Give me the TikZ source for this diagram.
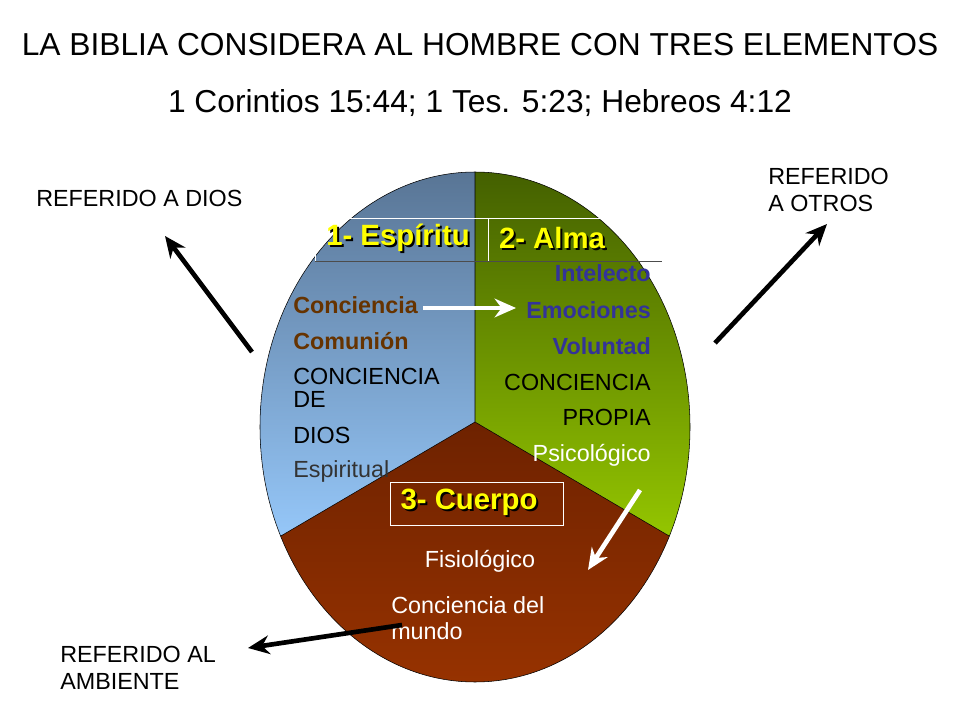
\documentclass[tikz,border=0pt]{standalone}
\usepackage{fontspec}
\setmainfont{Liberation Sans}
\usetikzlibrary{arrows.meta}
\definecolor{brownt}{HTML}{663300}
\definecolor{navyt}{HTML}{333399}
\definecolor{yell}{HTML}{FFFF00}
\definecolor{slatetop}{HTML}{55708F}
\definecolor{skybot}{HTML}{99CCFF}
\definecolor{olivetop}{HTML}{3F5A00}
\definecolor{limebot}{HTML}{99CC00}
\definecolor{rusttop}{HTML}{6E2200}
\definecolor{rustbot}{HTML}{993300}
\begin{document}
\begin{tikzpicture}[x=0.75pt,y=-0.75pt,
    every node/.style={inner sep=0pt},
    ttl/.style={font=\fontsize{23.8}{26}\selectfont},
    lbl/.style={font=\fontsize{17.5}{20}\selectfont},
    lblb/.style={font=\fontsize{17.5}{20}\selectfont\bfseries},
    head/.style={font=\fontsize{22}{25}\selectfont\bfseries,text=yell}]
    \useasboundingbox (0,0) rectangle (960,720);
    \fill[white] (0,0) rectangle (960,720);

    % three parts of the man
    \begin{scope}
        \clip (475,427) ellipse [x radius=215, y radius=255];
        \shade[top color=slatetop, bottom color=skybot]
            (475,150) -- (475,422) -- (240,560) -- (240,150) -- cycle;
        \shade[top color=olivetop, bottom color=limebot]
            (475,150) -- (475,422) -- (710,560) -- (710,150) -- cycle;
        \shade[top color=rusttop, bottom color=rustbot]
            (475,422) -- (240,560) -- (240,700) -- (710,700) -- (710,560) -- cycle;
        \draw[black] (475,150) -- (475,422) -- (240,560);
        \draw[black] (475,422) -- (710,560);
    \end{scope}
    \draw[black] (475,427) ellipse [x radius=215, y radius=255];

    % titles
    \node[ttl] (title) at (480,45) {LA BIBLIA CONSIDERA AL HOMBRE CON TRES ELEMENTOS};
    \node[ttl] (refs) at (480,103) {1 Corintios 15:44; 1 Tes. 5:23; Hebreos 4:12};

    % header boxes
    \draw[white] (315,218) -- (662,218);
    \draw[black!70] (315,261) -- (662,261);
    \draw[white] (315,218) -- (315,261);
    \draw[white] (488,218) -- (488,261);
    \node[head,text=black] at (400,240) {1- Espíritu};
    \node[head] (esp) at (398,238) {1- Espíritu};
    \node[head,text=black] at (554,240) {2- Alma};
    \node[head] (alma) at (552,238) {2- Alma};
    \draw[white] (390,482) rectangle (563,525);
    \node[head,text=black] at (471,504) {3- Cuerpo};
    \node[head] (cuerpo) at (469,502) {3- Cuerpo};

    % spirit
    \node[lblb,text=brownt,anchor=west] (conc) at (293,305) {Conciencia};
    \node[lblb,text=brownt,anchor=west] (comu) at (293,341) {Comunión};
    \node[lbl,anchor=west] (cdios) at (293,376) {CONCIENCIA};
    \node[lbl,anchor=west] (de) at (293,399) {DE};
    \node[lbl,anchor=west] (dios) at (293,435) {DIOS};
    \node[lbl,text=black!80,anchor=west] (espi) at (293,471) {Espiritual};

    % soul
    \node[lblb,text=navyt,anchor=east] (inte) at (651,273) {Intelecto};
    \node[lblb,text=navyt,anchor=east] (emoc) at (651,310) {Emociones};
    \node[lblb,text=navyt,anchor=east] (volu) at (651,346) {Voluntad};
    \node[lbl,anchor=east] (cprop) at (651,382) {CONCIENCIA};
    \node[lbl,anchor=east] (prop) at (651,417) {PROPIA};
    \node[lbl,text=white,anchor=east] (psic) at (651,455) {Psicológico};

    % body
    \node[lbl,text=white] (fisi) at (480,561) {Fisiológico};
    \node[lbl,text=white,anchor=west,align=left] (mundo) at (391,618) {Conciencia del\\mundo};

    % outer labels
    \node[lbl,anchor=west] (rdios) at (36,198) {REFERIDO A DIOS};
    \node[lbl,anchor=west,align=left] (rotros) at (768,190) {REFERIDO\\A OTROS};
    \node[lbl,anchor=west,align=left] (ramb) at (60,668) {REFERIDO AL\\AMBIENTE};

    % arrows
    \coordinate (a1) at (252,352); \coordinate (b1) at (165,236);
    \coordinate (a2) at (715,343); \coordinate (b2) at (827,224);
    \coordinate (a3) at (402,625); \coordinate (b3) at (248,648);
    \coordinate (a4) at (423,308); \coordinate (b4) at (516,308);
    \coordinate (a5) at (640,490); \coordinate (b5) at (588,570);
    \begin{scope}[>={Stealth[length=16pt,width=14pt]}, line width=3.5pt]
        \draw[->,black] (a1) -- (b1);
        \draw[->,black] (a2) -- (b2);
        \draw[->,black] (a3) -- (b3);
        \draw[->,white] (a4) -- (b4);
        \draw[->,white] (a5) -- (b5);
    \end{scope}
\end{tikzpicture}
\end{document}
